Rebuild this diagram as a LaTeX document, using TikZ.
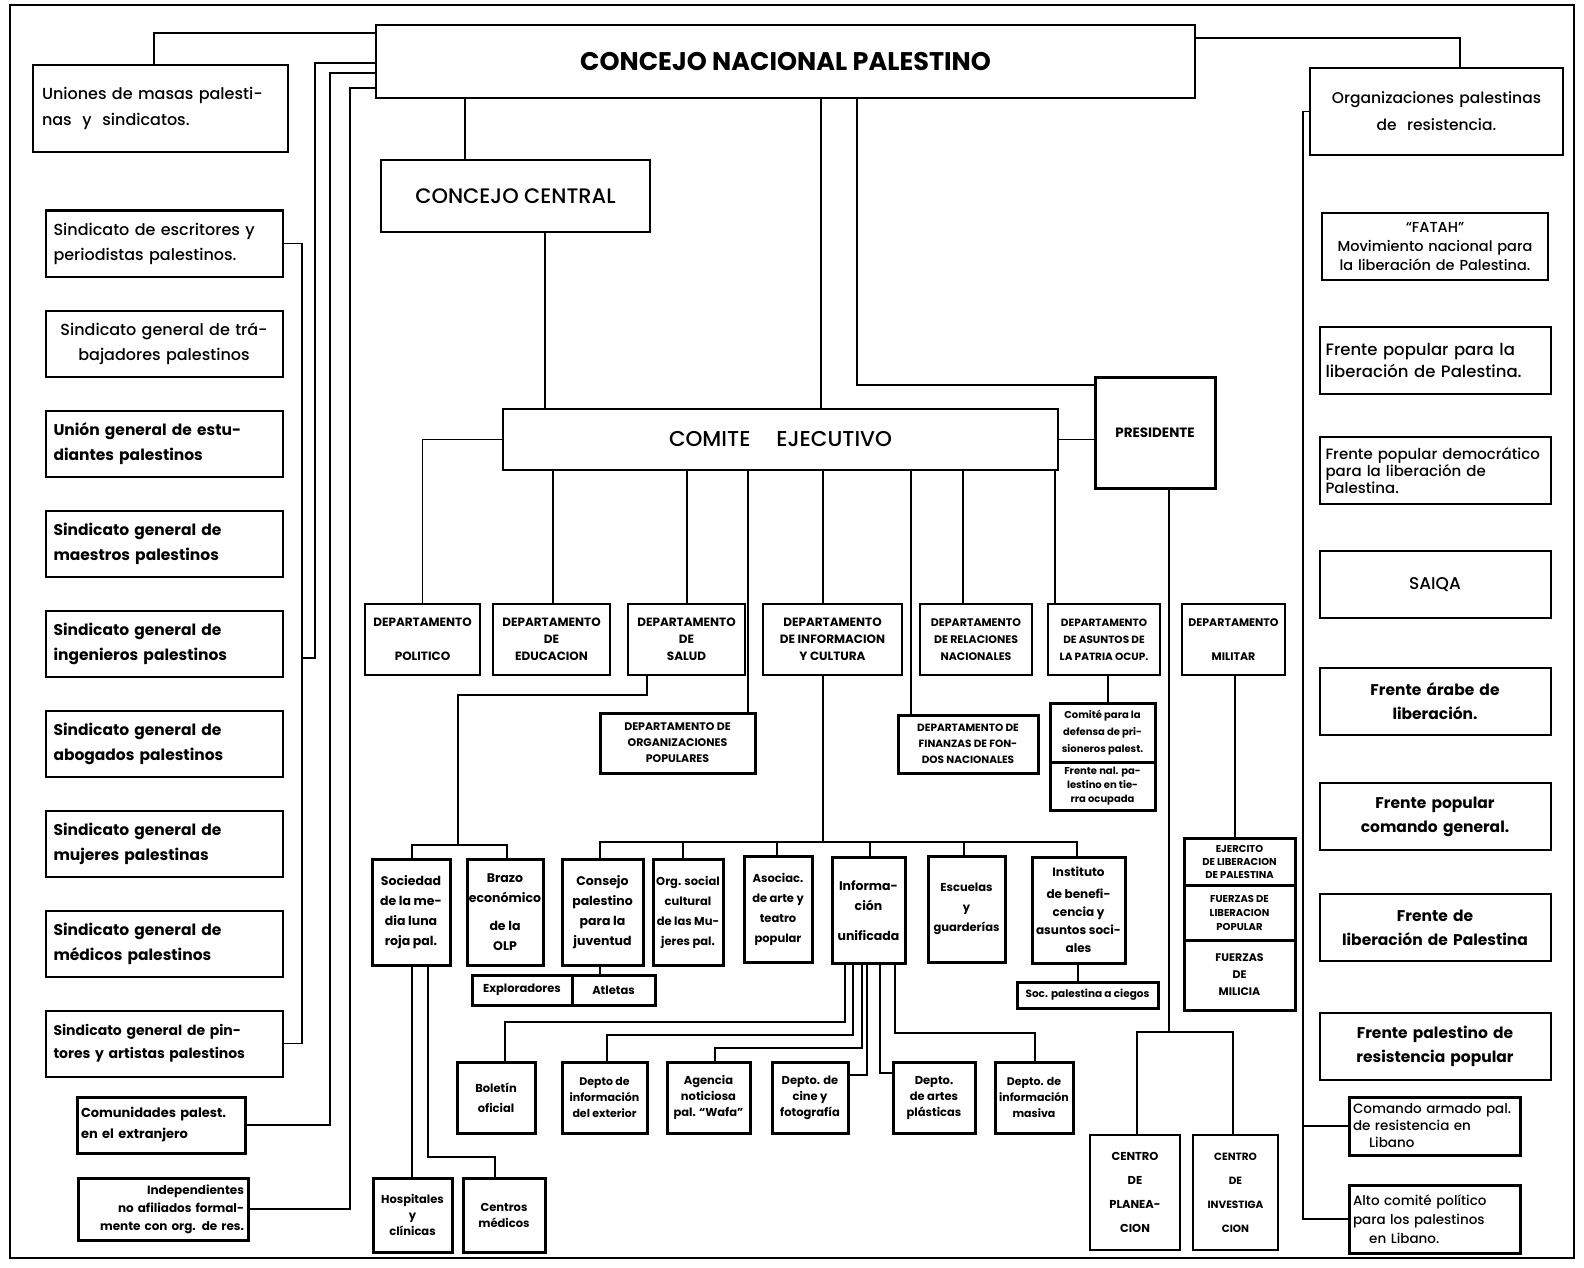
\documentclass[tikz,border=0pt]{standalone}
\usepackage{fontspec}
\setmainfont{Poppins}[UprightFont={* Medium}, BoldFont={* Bold}]
\usetikzlibrary{positioning}

\begin{document}
\begin{tikzpicture}[x=1pt, y=-1pt, line width=1.4pt,
    box/.style={draw, line width=2pt, inner sep=3pt, align=center},
    heavy/.style={line width=3pt},
    lbox/.style={box, minimum width=237pt, minimum height=66pt, text width=221pt, align=left, font=\fontsize{16}{25}\selectfont},
    lboxb/.style={lbox, font=\bfseries\fontsize{15.5}{25}\selectfont},
    rbox/.style={box, minimum width=231pt, minimum height=67pt, text width=219pt, font=\fontsize{16}{22}\selectfont},
    rboxb/.style={rbox, font=\bfseries\fontsize{15.5}{24}\selectfont},
    dept/.style={box, minimum height=71pt, inner sep=2pt, font=\bfseries\fontsize{12}{17}\selectfont},
    subbox/.style={box, heavy, minimum height=106pt, inner sep=1pt, font=\bfseries\fontsize{12.5}{20}\selectfont},
    leafbox/.style={box, heavy, minimum height=71pt, inner sep=1pt, font=\bfseries\fontsize{11.5}{16}\selectfont},
    centro/.style={box, minimum height=115pt, inner sep=2pt, font=\bfseries\fontsize{11.5}{24}\selectfont},
  ]
\useasboundingbox (0,0) rectangle (1584,1268);
\draw[line width=2pt] (10,5) rectangle (1574,1258);

% top level
\node[box, minimum width=819pt, minimum height=73pt, font=\bfseries\fontsize{25.5}{30}\selectfont] (CNP) at (785.5,61.5) {CONCEJO NACIONAL PALESTINO};
\node[box, minimum width=269pt, minimum height=72pt, font=\fontsize{21}{24}\selectfont] (CC) at (515.5,196) {CONCEJO CENTRAL};
\node[box, minimum width=555pt, minimum height=61pt, font=\fontsize{21.5}{24}\selectfont] (CE) at (780.5,439.5) {COMITE\hspace{1.2em}EJECUTIVO};
\node[box, heavy, minimum width=120pt, minimum height=111pt, font=\bfseries\fontsize{13.5}{15}\selectfont] (PRES) at (1155,432.5) {PRESIDENTE};

% left column
\node[box, minimum width=255pt, minimum height=87pt, text width=237pt, align=left, font=\fontsize{16}{26}\selectfont] (L0) at (160.5,108.5) {Uniones de masas palesti-\\nas \ y \ sindicatos.};
\node[lbox]                       (L1) at (164,243.5) {Sindicato de escritores y\\periodistas palestinos.};
\node[lbox, below=32pt of L1, align=center] (L2) {Sindicato general de trá-\\bajadores palestinos};
\node[lboxb, below=32pt of L2]    (L3) {Unión general de estu-\\diantes palestinos};
\node[lboxb, below=32pt of L3]    (L4) {Sindicato general de\\maestros palestinos};
\node[lboxb, below=32pt of L4]    (L5) {Sindicato general de\\ingenieros palestinos};
\node[lboxb, below=32pt of L5]    (L6) {Sindicato general de\\abogados palestinos};
\node[lboxb, below=32pt of L6]    (L7) {Sindicato general de\\mujeres palestinas};
\node[lboxb, below=32pt of L7]    (L8) {Sindicato general de\\médicos palestinos};
\node[lboxb, below=32pt of L8, font=\bfseries\fontsize{14}{23}\selectfont] (L9) {Sindicato general de pin-\\tores y artistas palestinos};
\node[box, heavy, minimum width=168pt, minimum height=56pt, text width=160pt, align=left, font=\bfseries\fontsize{13}{21}\selectfont] (L10) at (161,1125) {Comunidades palest.\\en el extranjero};
\node[box, heavy, minimum width=170pt, minimum height=62pt, text width=162pt, align=right, font=\bfseries\fontsize{12}{18}\selectfont] (L11) at (163,1209) {Independientes\\no afiliados formal-\\mente con org. de res.};

% right column
\node[rbox, minimum width=253pt, minimum height=87pt, text width=237pt, font=\fontsize{15.5}{27}\selectfont] (R0) at (1436.5,111.5) {Organizaciones palestinas\\de \ resistencia.};
\node[rbox, minimum width=226pt, text width=218pt, font=\fontsize{14.5}{19}\selectfont] (R1) at (1435,246.5) {``FATAH''\\Movimiento nacional para\\la liberación de Palestina.};
\node[rbox, below=45pt of R1, align=left, font=\fontsize{16.5}{22}\selectfont] (R2) {Frente popular para la\\liberación de Palestina.};
\node[rbox, below=41pt of R2, align=left, font=\fontsize{15}{17}\selectfont] (R3) {Frente popular democrático\\para la liberación de\\Palestina.};
\node[rbox, below=45pt of R3, font=\fontsize{17}{20}\selectfont] (R4) {SAIQA};
\node[rboxb, below=48pt of R4]    (R5) {Frente árabe de\\liberación.};
\node[rboxb, below=46pt of R5]    (R6) {Frente popular\\comando general.};
\node[rboxb, below=42pt of R6]    (R7) {Frente de\\liberación de Palestina};
\node[rboxb, below=50pt of R7]    (R8) {Frente palestino de\\resistencia popular};
\node[box, heavy, minimum width=171pt, minimum height=58pt, text width=163pt, align=left, font=\fontsize{13.5}{17}\selectfont] (R9) at (1434.5,1126) {Comando armado pal.\\de resistencia en\\\hspace*{1.2em}Libano};
\node[box, heavy, minimum width=171pt, minimum height=68pt, text width=163pt, align=left, font=\fontsize{13.5}{19}\selectfont] (R10) at (1434.5,1219) {Alto comité político\\para los palestinos\\\hspace*{1.2em}en Libano.};

% departments
\node[dept, minimum width=115pt] (DPOL) at (422.5,639.5) {DEPARTAMENTO\\[17pt]POLITICO};
\node[dept, minimum width=117pt] (DEDU) at (551.5,639.5) {DEPARTAMENTO\\DE\\EDUCACION};
\node[dept, minimum width=117pt] (DSAL) at (686.5,639.5) {DEPARTAMENTO\\DE\\SALUD};
\node[dept, minimum width=139pt] (DINF) at (832.5,639.5) {DEPARTAMENTO\\DE INFORMACION\\Y CULTURA};
\node[dept, minimum width=112pt, font=\bfseries\fontsize{11}{17}\selectfont] (DREL) at (976,639.5) {DEPARTAMENTO\\DE RELACIONES\\NACIONALES};
\node[dept, minimum width=112pt, font=\bfseries\fontsize{10.5}{17}\selectfont] (DPAT) at (1104,639.5) {DEPARTAMENTO\\DE ASUNTOS DE\\LA PATRIA OCUP.};
\node[dept, minimum width=103pt, font=\bfseries\fontsize{11}{17}\selectfont] (DMIL) at (1233.5,639.5) {DEPARTAMENTO\\[17pt]MILITAR};

\node[box, heavy, minimum width=155pt, minimum height=60pt, font=\bfseries\fontsize{11}{16}\selectfont] (DORG) at (677.5,743) {DEPARTAMENTO DE\\ORGANIZACIONES\\POPULARES};
\node[box, heavy, minimum width=140pt, minimum height=58pt, font=\bfseries\fontsize{10.5}{16}\selectfont] (DFIN) at (968,744) {DEPARTAMENTO DE\\FINANZAS DE FON-\\DOS NACIONALES};
\node[box, heavy, minimum width=105pt, minimum height=59pt, inner sep=1pt, font=\bfseries\fontsize{10}{17}\selectfont] (CDEF) at (1102.5,732.5) {Comité para la\\defensa de pri-\\sioneros palest.};
\node[box, heavy, minimum width=105pt, minimum height=48pt, inner sep=1pt, font=\bfseries\fontsize{10}{14}\selectfont] (FNAL) at (1102.5,786) {Frente nal. pa-\\lestino en tie-\\rra ocupada};

% third level
\node[subbox, minimum width=78pt] (SOC) at (411,912) {Sociedad\\de la me-\\dia luna\\roja pal.};
\node[subbox, minimum width=76pt] (BRA) at (505,912) {Brazo\\económico\\[8pt]de la\\OLP};
\node[subbox, minimum width=81pt] (CJU) at (602.5,912) {Consejo\\palestino\\para la\\juventud};
\node[subbox, minimum width=70pt, font=\bfseries\fontsize{11.5}{20}\selectfont] (ORG) at (688,912) {Org. social\\cultural\\de las Mu-\\jeres pal.};
\node[subbox, minimum width=68pt, font=\bfseries\fontsize{11.5}{20}\selectfont] (ASO) at (778,909.5) {Asociac.\\de arte y\\teatro\\popular};
\node[subbox, minimum width=73pt] (IUN) at (868.5,910.5) {Informa-\\ción\\[10pt]unificada};
\node[subbox, minimum width=77pt, font=\bfseries\fontsize{11.5}{20}\selectfont] (ESC) at (966.5,909) {Escuelas\\y\\guarderías};
\node[subbox, minimum width=93pt, font=\bfseries\fontsize{12}{18}\selectfont] (INS) at (1078.5,910) {Instituto\\[4pt]de benefi-\\cencia y\\asuntos soci-\\ales};

\node[box, heavy, minimum width=100pt, minimum height=30pt, inner sep=1pt, font=\bfseries\fontsize{11.5}{13}\selectfont] (EXP) at (522,990) {Exploradores};
\node[box, heavy, minimum width=83pt, minimum height=30pt, inner sep=1pt, font=\bfseries\fontsize{11.5}{13}\selectfont] (ATL) at (613.5,990) {Atletas};
\node[box, heavy, minimum width=141pt, minimum height=26pt, inner sep=1pt, font=\bfseries\fontsize{10.5}{13}\selectfont] (SCI) at (1087.5,995) {Soc. palestina a ciegos};

\node[box, heavy, minimum width=111pt, minimum height=47pt, inner sep=1pt, font=\bfseries\fontsize{10}{13}\selectfont] (EJ1) at (1239.5,861.5) {EJERCITO\\DE LIBERACION\\DE PALESTINA};
\node[box, heavy, minimum width=111pt, minimum height=55pt, inner sep=1pt, font=\bfseries\fontsize{10}{14}\selectfont] (EJ2) at (1239.5,912.5) {FUERZAS DE\\LIBERACION\\POPULAR};
\node[box, heavy, minimum width=111pt, minimum height=70pt, inner sep=1pt, font=\bfseries\fontsize{11}{17}\selectfont] (EJ3) at (1239.5,975) {FUERZAS\\DE\\MILICIA};

% fourth level
\node[leafbox, minimum width=78pt] (BOL) at (496,1097.5) {Boletín\\[4pt]oficial};
\node[leafbox, minimum width=85pt, font=\bfseries\fontsize{11}{16}\selectfont] (DEX) at (604.5,1097.5) {Depto de\\información\\del exterior};
\node[leafbox, minimum width=83pt] (AGE) at (708.5,1097.5) {Agencia\\noticiosa\\pal. ``Wafa''};
\node[leafbox, minimum width=76pt] (CIN) at (810,1097.5) {Depto. de\\cine y\\fotografía};
\node[leafbox, minimum width=82pt] (ART) at (934,1097.5) {Depto.\\de artes\\plásticas};
\node[leafbox, minimum width=78pt, font=\bfseries\fontsize{11}{16}\selectfont] (MAS) at (1034,1097.5) {Depto. de\\información\\masiva};
\node[leafbox, minimum width=79pt, minimum height=74pt] (HOS) at (412.5,1215) {Hospitales\\y\\clínicas};
\node[leafbox, minimum width=82pt, minimum height=74pt] (CME) at (504,1215) {Centros\\médicos};
\node[centro, minimum width=90pt] (CPL) at (1135,1192.5) {CENTRO\\DE\\PLANEA-\\CION};
\node[centro, minimum width=85pt, font=\bfseries\fontsize{10.5}{24}\selectfont] (CIV) at (1235.5,1192.5) {CENTRO\\DE\\INVESTIGA\\CION};

% links on the left
\draw (L0.north -| 154,0) |- (CNP.west |- 0,33);
\draw (CNP.west |- 0,63) -| (315,658) -- (302,658);
\draw (L1.east) -| (L9.east -| 302,0) -- (L9.east);
\draw (CNP.west |- 0,73) -| (330,0 |- L10.east) -- (L10.east);
\draw (CNP.west |- 0,88) -| (350,0 |- L11.east) -- (L11.east);

% links at the top
\draw (CNP.south -| 465,0) -- (CC.north -| 465,0);
\draw (CC.south -| 545,0) -- (CE.north -| 545,0);
\draw (CNP.south -| 821,0) -- (CE.north -| 821,0);
\draw (CNP.south -| 857,0) |- (PRES.west |- 0,385);
\draw (CE.east) -- (CE.east -| PRES.west);
\draw (CNP.east |- 0,38) -| (R0.north -| 1460,0);

% links on the right
\draw (R0.west) -| (1303,0 |- R10.west) -- (R10.west);
\draw (1303,0 |- R9.west) -- (R9.west);

% comite to departments
\draw (CE.west) -| (DPOL.north);
\draw (CE.south -| 553,0) -- (DEDU.north -| 553,0);
\draw (CE.south -| 687,0) -- (DSAL.north -| 687,0);
\draw (CE.south -| 748,0) -- (DORG.north -| 748,0);
\draw (CE.south -| 823,0) -- (DINF.north -| 823,0);
\draw (CE.south -| 911,0) -- (DFIN.north -| 911,0);
\draw (CE.south -| 963,0) -- (DREL.north -| 963,0);
\draw (CE.south -| 1055,0) -- (DPAT.north -| 1055,0);

% presidente to centros
\draw (PRES.south -| 1169,0) -- (1169,1032);
\draw (CPL.north -| 1137,0) |- (1233,1032) -- (CIV.north -| 1233,0);

\draw (DMIL.south -| 1235,0) -- (EJ1.north -| 1235,0);
\draw (DPAT.south -| 1108,0) -- (CDEF.north -| 1108,0);

% salud
\draw (DSAL.south -| 647,0) |- (458,695) -- (458,845);
\draw (SOC.north -| 412,0) |- (507,845) -- (BRA.north -| 507,0);
\draw (SOC.south -| 412,0) -- (HOS.north -| 412,0);
\draw (SOC.south -| 428,0) |- (495,1157) -- (CME.north -| 495,0);

% informacion y cultura
\draw (DINF.south -| 823,0) -- (823,842);
\draw (CJU.north -| 600,0) |- (1077,842) -- (INS.north -| 1077,0);
\draw (ORG.north -| 683,0) -- (683,842);
\draw (ASO.north -| 777,0) -- (777,842);
\draw (IUN.north -| 870,0) -- (870,842);
\draw (ESC.north -| 964,0) -- (964,842);
\draw (CJU.south -| 600,0) -- (ATL.north -| 600,0);
\draw (INS.south -| 1078,0) -- (SCI.north -| 1078,0);

% informacion unificada
\draw (IUN.south -| 845,0) |- (505,1022) -- (BOL.north -| 505,0);
\draw (IUN.south -| 853,0) |- (607,1035) -- (DEX.north -| 607,0);
\draw (IUN.south -| 862,0) |- (715,1048) -- (AGE.north -| 715,0);
\draw (IUN.south -| 867,0) |- (CIN.east |- 0,1075);
\draw (IUN.south -| 880,0) |- (ART.west |- 0,1073);
\draw (IUN.south -| 895,0) |- (1035,1033) -- (MAS.north -| 1035,0);
\end{tikzpicture}
\end{document}
